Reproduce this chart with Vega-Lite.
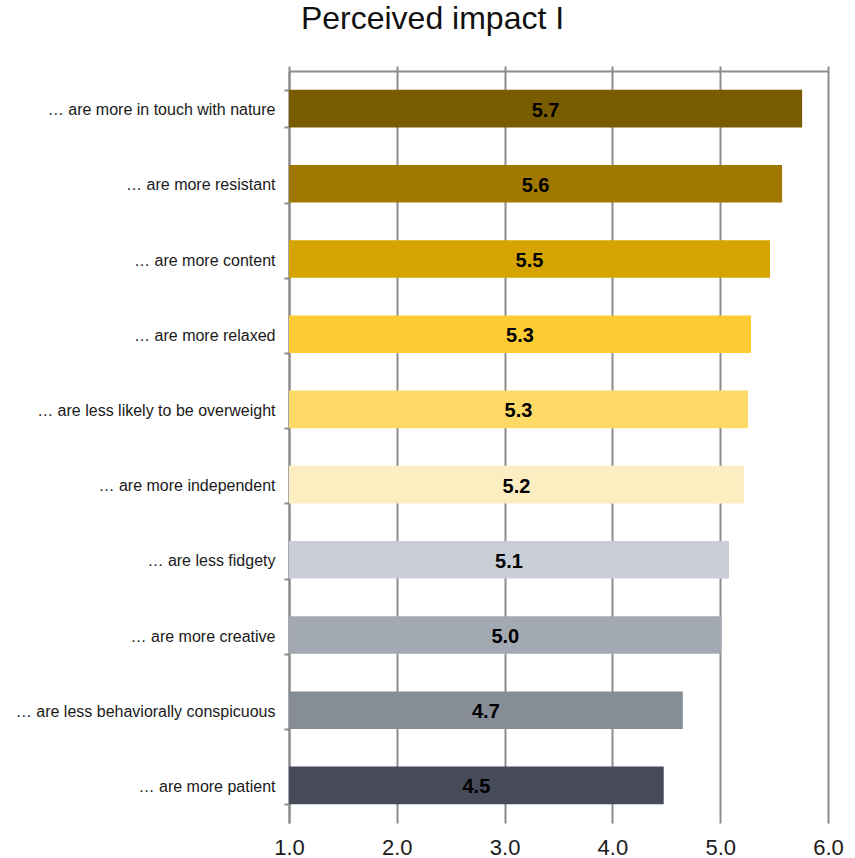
{
  "$schema": "https://vega.github.io/schema/vega-lite/v6.json",
  "autosize": {"type": "none"},
  "padding": {"left": 289, "top": 71, "right": 27, "bottom": 35},
  "width": 539,
  "height": 752,
  "background": "white",
  "title": {
    "text": "Perceived impact I",
    "fontSize": 32,
    "font": "Liberation Sans",
    "fontWeight": "normal",
    "color": "#111111",
    "anchor": "middle",
    "frame": "group",
    "dx": -126,
    "offset": 27
  },
  "config": {
    "view": {"stroke": null},
    "font": "Liberation Sans"
  },
  "data": {
    "values": [
      {"item": "… are more in touch with nature", "value": 5.76, "label": "5.7", "color": "#7a5c00"},
      {"item": "… are more resistant", "value": 5.574, "label": "5.6", "color": "#a07800"},
      {"item": "… are more content", "value": 5.462, "label": "5.5", "color": "#d6a400"},
      {"item": "… are more relaxed", "value": 5.286, "label": "5.3", "color": "#ffcb33"},
      {"item": "… are less likely to be overweight", "value": 5.258, "label": "5.3", "color": "#ffd966"},
      {"item": "… are more independent", "value": 5.22, "label": "5.2", "color": "#fdeec2"},
      {"item": "… are less fidgety", "value": 5.081, "label": "5.1", "color": "#c9cdd5"},
      {"item": "… are more creative", "value": 5.013, "label": "5.0", "color": "#a3a9b3"},
      {"item": "… are less behaviorally conspicuous", "value": 4.653, "label": "4.7", "color": "#868d97"},
      {"item": "… are more patient", "value": 4.476, "label": "4.5", "color": "#474a59"}
    ]
  },
  "encoding": {
    "y": {
      "field": "item",
      "type": "nominal",
      "sort": null,
      "scale": {"paddingInner": 0.5, "paddingOuter": 0.25},
      "axis": {
        "title": null,
        "labelFontSize": 16,
        "labelColor": "#1a1a1a",
        "labelPadding": 9,
        "labelLimit": 400,
        "labelOffset": 1,
        "tickSize": 5,
        "tickWidth": 2,
        "tickColor": "#8c8c8c",
        "domainColor": "#8c8c8c",
        "domainWidth": 2,
        "tickBand": "extent",
        "grid": false
      }
    }
  },
  "resolve": {"axis": {"x": "independent"}},
  "layer": [
    {
      "mark": {"type": "bar"},
      "encoding": {
        "x": {
          "field": "value",
          "type": "quantitative",
          "scale": {"domain": [1, 6], "zero": false, "nice": false},
          "axis": {
            "title": null,
            "orient": "bottom",
            "values": [1, 2, 3, 4, 5, 6],
            "format": ".1f",
            "domain": false,
            "ticks": false,
            "grid": true,
            "gridColor": "#8c8c8c",
            "gridWidth": 2,
            "gridOpacity": 1,
            "labelFontSize": 22,
            "labelColor": "#1a1a1a",
            "labelPadding": 14,
            "labelFlush": false,
            "labelOverlap": false
          }
        },
        "x2": {"datum": 1},
        "color": {"field": "color", "type": "nominal", "scale": null, "legend": null}
      }
    },
    {
      "transform": [{"calculate": "(datum.value + 1) / 2", "as": "mid"}],
      "mark": {"type": "text", "fontWeight": "bold", "fontSize": 20, "color": "#000000", "baseline": "middle", "align": "center", "dy": 2},
      "encoding": {
        "x": {
          "field": "mid",
          "type": "quantitative",
          "scale": {"domain": [1, 6], "zero": false, "nice": false},
          "axis": {
            "title": null,
            "orient": "top",
            "values": [1, 2, 3, 4, 5, 6],
            "labels": false,
            "domain": true,
            "domainColor": "#8c8c8c",
            "domainWidth": 2,
            "ticks": true,
            "tickSize": 5,
            "tickWidth": 2,
            "tickColor": "#8c8c8c",
            "grid": false
          }
        },
        "text": {"field": "label", "type": "nominal"}
      }
    }
  ]
}
